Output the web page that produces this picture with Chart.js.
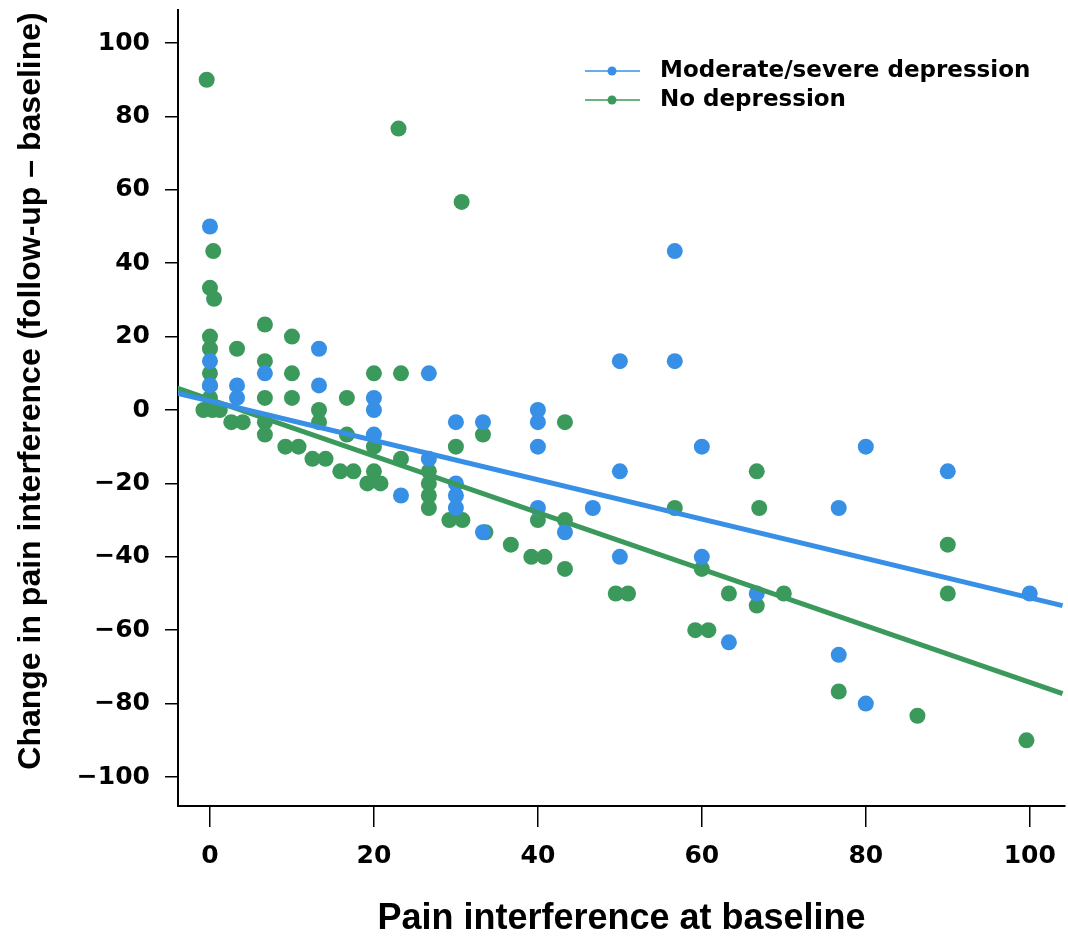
<!DOCTYPE html>
<html>
<head>
<meta charset="utf-8">
<script src="https://cdn.jsdelivr.net/npm/chart.js@4.4.0/dist/chart.umd.min.js"></script>
<style>
  body { margin: 0; background: #fff; }
  canvas { display: block; }
</style>
</head>
<body>
<canvas id="chart" width="1068" height="941"></canvas>
<script>
// Tick labels
const xTicks = [0, 20, 40, 60, 80, 100];
const yTicks = [-100, -80, -60, -40, -20, 0, 20, 40, 60, 80, 100];

// Moderate/severe depression: baseline and change
const modX = [0, 0, 0, 3.3, 3.3, 6.7, 13.3, 13.3, 20, 20, 20, 23.3, 26.7, 26.7, 30, 30, 30, 30, 33.3, 33.3,
  40, 40, 40, 40, 43.3, 46.7, 50, 50, 50, 56.7, 56.7, 60, 60, 63.3, 66.7, 76.7, 76.7, 80, 80, 90, 100];
const modY = [50, 13.3, 6.7, 6.7, 3.3, 10, 16.7, 6.7, 3.3, 0, -6.7, -23.3, 10, -13.3, -3.3, -20, -23.3, -26.7, -3.3, -33.3,
  0, -3.3, -10, -26.7, -33.3, -26.7, 13.3, -16.7, -40, 43.3, 13.3, -10, -40, -63.3, -50, -26.7, -66.7, -10, -80, -16.7, -50];

// No depression: baseline and change
const noX = [-0.4, 0.4, 0, 0.5, 0, 0, 0, 0, 0, -0.8, 0.3, 1.2, 3.3, 2.6, 4, 6.7, 6.7, 6.7, 6.7, 6.7,
  10, 10, 10, 9.2, 10.8, 13.3, 13.3, 12.5, 14.1, 16.7, 16.7, 15.9, 17.5, 20, 20, 20, 19.2, 20.8,
  23, 23.3, 23.3, 26.7, 26.7, 26.7, 26.7, 30, 29.2, 30.8, 30.7, 33.3, 33.6, 36.7, 39.2, 40.8, 40,
  43.3, 43.3, 43.3, 49.5, 51, 56.7, 60, 59.2, 60.8, 63.3, 66.7, 66.7, 67, 70, 76.7, 86.3, 90, 90, 99.6];
const noY = [90, 43.3, 33.3, 30.3, 20, 16.7, 10, 6.7, 3.3, 0, 0, 0, 16.7, -3.3, -3.3, 23.3, 13.3, 3.3, -3.3, -6.7,
  20, 10, 3.3, -10, -10, 0, -3.3, -13.3, -13.3, 3.3, -6.7, -16.7, -16.7, 10, -10, -16.7, -20, -20,
  76.7, 10, -13.3, -16.7, -20, -23.3, -26.7, -10, -30, -30, 56.7, -6.7, -33.3, -36.7, -40, -40, -30,
  -3.3, -30, -43.3, -50, -50, -26.7, -43.3, -60, -60, -50, -16.7, -53.3, -26.7, -50, -76.7, -83.3, -36.7, -50, -90];

// Fit line end points
const fitX = [-4, 104];
const modFit = [4.6, -53.3];
const noFit = [6.0, -77.3];

const blue = '#3790e6';
const green = '#3b9a5b';

const toPoints = (xs, ys) => xs.map((x, i) => ({ x: x, y: ys[i] }));

const legendItems = [
  { label: 'Moderate/severe depression', color: blue },
  { label: 'No depression', color: green }
];

// legend and y title drawn by hand (y title sits a bit above the axis centre)
const extrasPlugin = {
  id: 'extras',
  afterDraw(chart) {
    const ctx = chart.ctx;
    ctx.save();
    legendItems.forEach((item, i) => {
      const y = 71 + i * 29;
      ctx.strokeStyle = item.color;
      ctx.lineWidth = 1.5;
      ctx.beginPath();
      ctx.moveTo(585, y);
      ctx.lineTo(640, y);
      ctx.stroke();
      ctx.fillStyle = item.color;
      ctx.beginPath();
      ctx.arc(612, y, 4.5, 0, Math.PI * 2);
      ctx.fill();
      ctx.fillStyle = '#000';
      ctx.font = 'bold 23px "DejaVu Sans"';
      ctx.textBaseline = 'middle';
      ctx.fillText(item.label, 660, y);
    });

    ctx.translate(31, 391);
    ctx.rotate(-Math.PI / 2);
    ctx.font = 'bold 32px "Liberation Sans"';
    ctx.textAlign = 'center';
    ctx.textBaseline = 'middle';
    ctx.fillStyle = '#000';
    ctx.fillText('Change in pain interference (follow-up – baseline)', 0, 0);
    ctx.restore();
  }
};

const minusSign = v => String(v).replace('-', '\u2212');

new Chart(document.getElementById('chart'), {
  type: 'scatter',
  data: {
    datasets: [
      {
        type: 'line',
        data: toPoints(fitX, modFit),
        borderColor: blue,
        borderWidth: 5,
        pointRadius: 0
      },
      {
        type: 'line',
        data: toPoints(fitX, noFit),
        borderColor: green,
        borderWidth: 5,
        pointRadius: 0
      },
      {
        data: toPoints(modX, modY),
        backgroundColor: blue,
        borderWidth: 0,
        pointRadius: 8
      },
      {
        data: toPoints(noX, noY),
        backgroundColor: green,
        borderWidth: 0,
        pointRadius: 8
      }
    ]
  },
  options: {
    responsive: false,
    animation: false,
    events: [],
    layout: { autoPadding: false, padding: { top: 10, right: 3, left: 0, bottom: 0 } },
    plugins: {
      legend: { display: false },
      tooltip: { enabled: false }
    },
    scales: {
      x: {
        type: 'linear',
        min: -3.9,
        max: 104.3,
        afterFit: scale => {
          scale.height = 135;
          scale.paddingLeft = 0;
          scale.paddingRight = 0;
        },
        afterBuildTicks: scale => { scale.ticks = xTicks.map(v => ({ value: v })); },
        border: { display: true, color: '#000', width: 2 },
        grid: { drawOnChartArea: false, drawTicks: true, tickLength: 21, color: '#000', lineWidth: 1.5 },
        ticks: {
          color: '#000',
          padding: 14,
          maxRotation: 0,
          font: { family: 'DejaVu Sans', weight: 'bold', size: 25 }
        },
        title: {
          display: true,
          text: 'Pain interference at baseline',
          color: '#000',
          padding: 0,
          font: { family: 'Liberation Sans', weight: 'bold', size: 36 }
        }
      },
      y: {
        type: 'linear',
        min: -107.9,
        max: 109,
        afterFit: scale => {
          scale.width = 178;
          scale.paddingTop = 0;
          scale.paddingBottom = 0;
        },
        afterBuildTicks: scale => { scale.ticks = yTicks.map(v => ({ value: v })); },
        border: { display: true, color: '#000', width: 2 },
        grid: { drawOnChartArea: false, drawTicks: true, tickLength: 13, color: '#000', lineWidth: 1.5 },
        ticks: {
          color: '#000',
          padding: 15,
          callback: minusSign,
          font: { family: 'DejaVu Sans', weight: 'bold', size: 25 }
        }
      }
    }
  },
  plugins: [extrasPlugin]
});
</script>
</body>
</html>
